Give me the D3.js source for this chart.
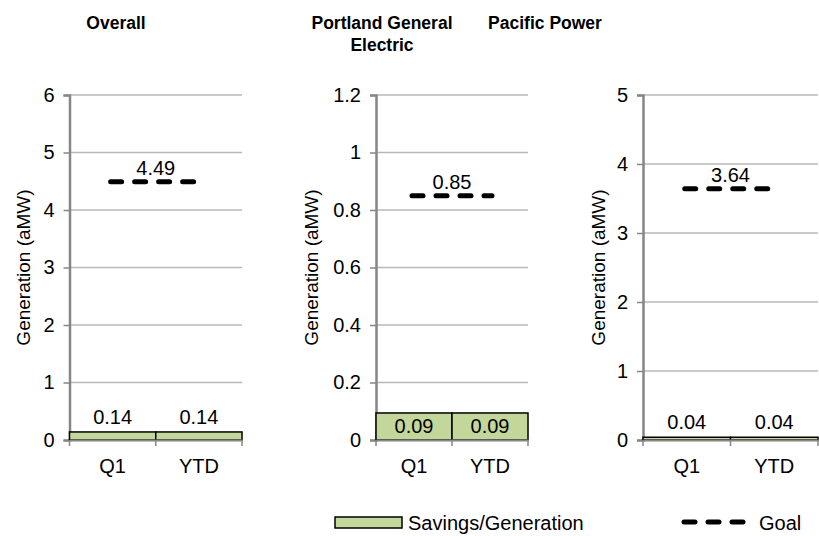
<!DOCTYPE html>
<html>
<head>
<meta charset="utf-8">
<script src="https://cdn.jsdelivr.net/npm/d3@7"></script>
<style>
  body { margin: 0; background: #fff; }
  text { font-family: "Liberation Sans", Arial, sans-serif; fill: #000; }
</style>
</head>
<body>
<script>
// chart data
const categories = ["Q1", "YTD"];
const titles = [["Overall"], ["Portland General", "Electric"], ["Pacific Power"]];
const savings = [[0.14, 0.14], [0.094, 0.094], [0.04, 0.04]];
const goals = [4.49, 0.85, 3.64];
const yMaxes = [6, 1.2, 5];
const yTicks = [[0, 1, 2, 3, 4, 5, 6], [0, 0.2, 0.4, 0.6, 0.8, 1, 1.2], [0, 1, 2, 3, 4, 5]];

function main(){
    const width = 819, height = 536;
    const fs = "20px";
    const svg = d3.select("body").append("svg")
        .attr("width", width)
        .attr("height", height);

    // plot area of each panel
    const panels = [
        {left: 69.5, right: 242, titleX: 116, labelX: 23},
        {left: 376, right: 528, titleX: 382, labelX: 311},
        {left: 643, right: 818, titleX: 545, labelX: 598}
    ];
    const top = 95, bottom = 440;
    const fmt = d3.format(".2f");

    panels.forEach((p, i) => {
        const g = svg.append("g");

        const x = d3.scaleBand().domain(categories).range([p.left, p.right]).padding(0);
        const y = d3.scaleLinear().domain([0, yMaxes[i]]).range([bottom, top]);

        // title
        titles[i].forEach((line, k) => {
            g.append("text")
                .attr("x", p.titleX)
                .attr("y", 29 + k * 22)
                .attr("text-anchor", "middle")
                .attr("font-size", "17.5px")
                .attr("font-weight", "bold")
                .text(line);
        });

        // gridlines
        g.append("g")
            .selectAll("line")
            .data(yTicks[i].filter(t => t > 0))
            .join("line")
            .attr("x1", p.left).attr("x2", p.right)
            .attr("y1", d => y(d)).attr("y2", d => y(d))
            .attr("stroke", "#b8b8b8")
            .attr("stroke-width", 1.5);

        // y axis
        const ya = g.append("g")
            .attr("transform", `translate(${p.left},0)`)
            .call(d3.axisLeft(y).tickValues(yTicks[i]).tickSize(6).tickPadding(9).tickFormat(d3.format("")));
        ya.select(".domain").attr("stroke", "#868686").attr("stroke-width", 2.5);
        ya.selectAll(".tick line").attr("stroke", "#868686").attr("stroke-width", 1.5);
        ya.selectAll(".tick text")
            .attr("font-size", fs)
            .attr("font-family", "Liberation Sans, Arial, sans-serif")
            .attr("fill", "#000");

        // y axis title
        g.append("text")
            .attr("transform", `translate(${p.labelX},${(top + bottom) / 2}) rotate(-90)`)
            .attr("text-anchor", "middle")
            .attr("dy", "0.35em")
            .attr("font-size", "19px")
            .text("Generation (aMW)");

        // bars
        const vals = savings[i].map((v, k) => ({cat: categories[k], v: v}));
        g.append("g")
            .selectAll("rect")
            .data(vals)
            .join("rect")
            .attr("x", d => x(d.cat))
            .attr("y", d => y(d.v))
            .attr("width", x.bandwidth())
            .attr("height", d => y(0) - y(d.v))
            .attr("fill", "#c4d79b")
            .attr("stroke", "#000")
            .attr("stroke-width", 1.5);

        // bar labels: inside if the bar is tall enough, otherwise above
        g.append("g")
            .selectAll("text")
            .data(vals)
            .join("text")
            .attr("x", d => x(d.cat) + x.bandwidth() / 2)
            .attr("y", d => {
                const h = y(0) - y(d.v);
                return h > 20 ? y(d.v) + h / 2 + 7 : y(d.v) - 8;
            })
            .attr("text-anchor", "middle")
            .attr("font-size", fs)
            .text(d => fmt(d.v));

        // x axis
        const xa = g.append("g")
            .attr("transform", `translate(0,${bottom})`)
            .call(d3.axisBottom(x).tickSize(0).tickPadding(19));
        xa.select(".domain").attr("stroke", "#868686").attr("stroke-width", 2);
        xa.selectAll(".tick text")
            .attr("font-size", fs)
            .attr("font-family", "Liberation Sans, Arial, sans-serif")
            .attr("fill", "#000");
        // category boundary ticks
        g.append("g")
            .selectAll("line")
            .data([p.left, p.left + x.bandwidth(), p.right])
            .join("line")
            .attr("x1", d => d).attr("x2", d => d)
            .attr("y1", bottom).attr("y2", bottom + 6)
            .attr("stroke", "#868686")
            .attr("stroke-width", 1.5);

        // goal line from Q1 center to YTD center
        const cx = categories.map(c => x(c) + x.bandwidth() / 2);
        g.append("line")
            .attr("x1", cx[0] - 2).attr("x2", cx[1] + 2)
            .attr("y1", y(goals[i])).attr("y2", y(goals[i]))
            .attr("stroke", "#000")
            .attr("stroke-width", 5)
            .attr("stroke-linecap", "round")
            .attr("stroke-dasharray", "11,13");
        g.append("text")
            .attr("x", (cx[0] + cx[1]) / 2)
            .attr("y", y(goals[i]) - 7)
            .attr("text-anchor", "middle")
            .attr("font-size", fs)
            .text(fmt(goals[i]));
    });

    // legend
    const lg = svg.append("g");
    lg.append("rect")
        .attr("x", 335).attr("y", 517)
        .attr("width", 67).attr("height", 11)
        .attr("fill", "#c4d79b")
        .attr("stroke", "#000")
        .attr("stroke-width", 1.5);
    lg.append("text")
        .attr("x", 408).attr("y", 530)
        .attr("font-size", fs)
        .text("Savings/Generation");
    lg.append("line")
        .attr("x1", 684).attr("x2", 748)
        .attr("y1", 522).attr("y2", 522)
        .attr("stroke", "#000")
        .attr("stroke-width", 5)
        .attr("stroke-linecap", "round")
        .attr("stroke-dasharray", "11,13");
    lg.append("text")
        .attr("x", 759).attr("y", 530)
        .attr("font-size", fs)
        .text("Goal");
}
main();
</script>
</body>
</html>
